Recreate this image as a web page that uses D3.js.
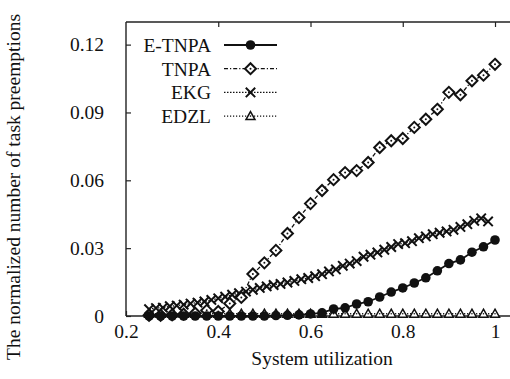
<!DOCTYPE html>
<html>
<head>
<meta charset="utf-8">
<script src="https://cdn.jsdelivr.net/npm/d3@7"></script>
<style>
  body { margin: 0; background: #fff; }
  svg { display: block; }
  svg text { font-family: "Liberation Serif", "Times New Roman", serif !important; }
</style>
</head>
<body>
<svg id="chart" width="510" height="379"></svg>
<script>
// x positions (system utilization) for E-TNPA, TNPA, EDZL
const utilX = [0.25, 0.275, 0.3, 0.325, 0.35, 0.375, 0.4, 0.425, 0.45, 0.475, 0.5,
  0.525, 0.55, 0.575, 0.6, 0.625, 0.65, 0.675, 0.7, 0.725, 0.75,
  0.775, 0.8, 0.825, 0.85, 0.875, 0.9, 0.925, 0.95, 0.975, 1.0];

const etnpa = [0, 0, 0, 0, 0, 0, 0, 0, 0, 0, 0,
  0.0002, 0.0003, 0.0005, 0.0009, 0.0014, 0.0031, 0.0036, 0.0053, 0.0063, 0.0084,
  0.0106, 0.0124, 0.0146, 0.0169, 0.0200, 0.0232, 0.0248, 0.0282, 0.0306, 0.0336];

const tnpa = [0.0003, 0.0003, 0.0005, 0.0008, 0.0012, 0.0025, 0.0020, 0.0055, 0.0082, 0.0186, 0.0235,
  0.0290, 0.0365, 0.0435, 0.0497, 0.0555, 0.0603, 0.0634, 0.0643, 0.0679, 0.0745,
  0.0775, 0.0785, 0.0834, 0.0870, 0.0914, 0.0989, 0.0978, 0.1040, 0.1065, 0.1113];

const edzl = [0.001, 0.001, 0.001, 0.001, 0.001, 0.001, 0.001, 0.001, 0.001, 0.001, 0.001,
  0.001, 0.001, 0.001, 0.001, 0.001, 0.001, 0.001, 0.001, 0.001, 0.001,
  0.001, 0.001, 0.001, 0.001, 0.001, 0.001, 0.001, 0.001, 0.001, 0.001];

// EKG is sampled more densely
const ekgX = [0.25, 0.265, 0.28, 0.295, 0.31, 0.325, 0.34, 0.355, 0.37, 0.385,
  0.4, 0.415, 0.43, 0.445, 0.46, 0.475, 0.49, 0.505, 0.52, 0.535,
  0.55, 0.565, 0.58, 0.595, 0.61, 0.625, 0.64, 0.655, 0.67, 0.685,
  0.7, 0.715, 0.73, 0.745, 0.76, 0.775, 0.79, 0.805, 0.82, 0.835,
  0.85, 0.865, 0.88, 0.895, 0.91, 0.925, 0.94, 0.955, 0.97, 0.985];
const ekg = [0.0030, 0.0035, 0.0037, 0.0043, 0.0046, 0.0050, 0.0055, 0.0059, 0.0064, 0.0071,
  0.0078, 0.0085, 0.0094, 0.0101, 0.0108, 0.0116, 0.0124, 0.0131, 0.0137, 0.0142,
  0.0148, 0.0155, 0.0163, 0.0168, 0.0176, 0.0185, 0.0197, 0.0206, 0.0222, 0.0232,
  0.0243, 0.0262, 0.0271, 0.0281, 0.0293, 0.0305, 0.0318, 0.0322, 0.0331, 0.0344,
  0.0352, 0.0362, 0.0368, 0.0374, 0.0381, 0.0394, 0.0406, 0.0421, 0.0432, 0.0418];

const xTicks = [0.2, 0.4, 0.6, 0.8, 1];
const yTicks = [0, 0.03, 0.06, 0.09, 0.12];
const legendNames = ["E-TNPA", "TNPA", "EKG", "EDZL"];

const svg = d3.select("#chart");
const fs = 19.5;
const ink = "#111";

const x = d3.scaleLinear().domain([0.2, 1.0325]).range([126, 510]);
const y = d3.scaleLinear().domain([0, 0.13]).range([316, 22]);

// frame: left, top, bottom (right edge is cut off)
const frame = svg.append("g").attr("stroke", "#222").attr("stroke-width", 1.4).attr("fill", "none");
frame.append("line").attr("x1", x(0.2)).attr("x2", x(0.2)).attr("y1", y(0.13)).attr("y2", y(0));
frame.append("line").attr("x1", x(0.2)).attr("x2", 510).attr("y1", y(0.13)).attr("y2", y(0.13));
frame.append("line").attr("x1", x(0.2)).attr("x2", 510).attr("y1", y(0)).attr("y2", y(0));

const fmt = d => String(d);

const xAxis = svg.append("g").attr("transform", `translate(0,${y(0)})`)
  .call(d3.axisBottom(x).tickValues(xTicks).tickSize(-5).tickPadding(8).tickFormat(fmt));
const xTop = svg.append("g").attr("transform", `translate(0,${y(0.13)})`)
  .call(d3.axisTop(x).tickValues(xTicks.slice(1)).tickSize(-5).tickFormat(""));
const yAxis = svg.append("g").attr("transform", `translate(${x(0.2)},0)`)
  .call(d3.axisLeft(y).tickValues(yTicks).tickSize(-5).tickPadding(22).tickFormat(fmt));

[xAxis, xTop, yAxis].forEach(g => {
  g.attr("font-family", null).attr("font-size", null);
  g.select(".domain").remove();
  g.selectAll("line").attr("stroke", "#222").attr("stroke-width", 1.2);
  g.selectAll("text").attr("font-size", fs).attr("fill", ink);
});

svg.append("text").attr("x", 322).attr("y", 365).attr("text-anchor", "middle")
  .attr("font-size", fs).attr("fill", ink).text("System utilization");
svg.append("text").attr("transform", "translate(20,187) rotate(-90)").attr("text-anchor", "middle")
  .attr("font-size", fs).attr("fill", ink).text("The normalized number of task preemptions");

// marker drawing helpers
function marker(g, type) {
  if (type === "circle") {
    g.append("circle").attr("r", 4.8).attr("fill", ink);
  } else if (type === "diamond") {
    g.append("path").attr("d", "M0,-5.5L5.5,0L0,5.5L-5.5,0Z").attr("fill", "#fff")
      .attr("stroke", ink).attr("stroke-width", 2);
    g.append("circle").attr("r", 1).attr("fill", ink);
  } else if (type === "cross") {
    g.append("path").attr("d", "M-4.7,-4.7L4.7,4.7M-4.7,4.7L4.7,-4.7")
      .attr("stroke", ink).attr("stroke-width", 2).attr("fill", "none");
  } else if (type === "triangle") {
    g.append("path").attr("d", "M0,-4.5L4.5,3.5L-4.5,3.5Z").attr("fill", "#fff")
      .attr("stroke", ink).attr("stroke-width", 1.5);
    g.append("circle").attr("r", 0.8).attr("fill", ink);
  }
}

const series = [
  { name: "E-TNPA", xs: utilX, ys: etnpa, dash: null, width: 1.8, type: "circle" },
  { name: "TNPA", xs: utilX, ys: tnpa, dash: "4,2,1.2,2", width: 1.3, type: "diamond" },
  { name: "EKG", xs: ekgX, ys: ekg, dash: "1.5,1.5", width: 1.3, type: "cross" },
  { name: "EDZL", xs: utilX, ys: edzl, dash: "1.2,1.8", width: 1.3, type: "triangle" }
];

const line = d3.line().x(d => x(d[0])).y(d => y(d[1]));
const plot = svg.append("g");

// draw in reverse order so E-TNPA is on top
series.slice().reverse().forEach(s => {
  const pts = s.xs.map((v, i) => [v, s.ys[i]]);
  plot.append("path").datum(pts).attr("d", line)
    .attr("fill", "none").attr("stroke", ink).attr("stroke-width", s.width)
    .attr("stroke-dasharray", s.dash);
  plot.selectAll(null).data(pts).join("g")
    .attr("transform", d => `translate(${x(d[0])},${y(d[1])})`)
    .each(function () { marker(d3.select(this), s.type); });
});

// legend
const legend = svg.append("g");
series.forEach((s, i) => {
  const ly = 45 + i * 23.7;
  legend.append("text").attr("x", 211).attr("y", ly).attr("dy", "0.35em")
    .attr("text-anchor", "end").attr("font-size", fs).attr("fill", ink).text(legendNames[i]);
  legend.append("line").attr("x1", 224).attr("x2", 277).attr("y1", ly).attr("y2", ly)
    .attr("stroke", ink).attr("stroke-width", s.width).attr("stroke-dasharray", s.dash);
  const m = legend.append("g").attr("transform", `translate(250.5,${ly})`);
  marker(m, s.type);
});
</script>
</body>
</html>
